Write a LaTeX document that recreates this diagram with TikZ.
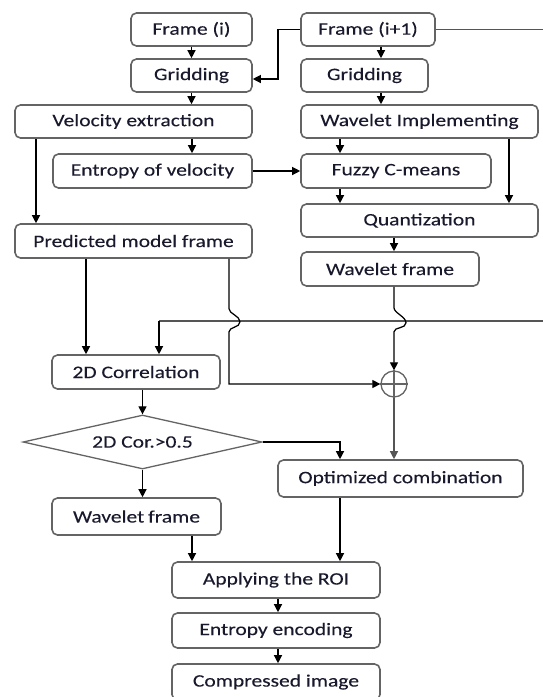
\documentclass[tikz,border=0pt]{standalone}
\usepackage{fontspec}
\setmainfont{Carlito}[FakeStretch=1.23,FakeBold=0.12]
\usetikzlibrary{arrows.meta,shapes.geometric}
\definecolor{boxgray}{RGB}{100,100,100}
\definecolor{linegray}{RGB}{85,85,85}
\definecolor{txt}{RGB}{25,25,45}
\begin{document}
\begin{tikzpicture}[x=1pt,y=-1pt,
  box/.style={draw=boxgray, line width=1.6pt, rounded corners=5.5pt, inner sep=0pt,
    font=\fontsize{17.5}{20}\selectfont, text=txt, fill=white},
  dia/.style={draw=boxgray, line width=1.3pt, shape=diamond, inner sep=0pt, aspect=4.4,
    font=\fontsize{17.5}{20}\selectfont, text=txt},
  conn/.style={draw=black, line width=1.25pt},
  arr/.style={conn, -{Triangle[length=8pt,width=8pt]}},
  gline/.style={draw=linegray, line width=1.4pt},
]
\useasboundingbox (0,0) rectangle (543,697);
% columns
\coordinate (xa) at (381,0);
\coordinate (xb) at (340,0);
\coordinate (xc) at (509,0);
\coordinate (xd) at (394,0);
\coordinate (xe) at (36,0);
\coordinate (xf) at (86,0);
\coordinate (xg) at (229,0);
\coordinate (xh) at (159,0);
\coordinate (xj) at (192,0);
\coordinate (xk) at (278,0);
\coordinate (yl) at (0,321);
\coordinate (redge) at (543,321);
\coordinate (tedge) at (543,29.5);

% boxes
\node[box, minimum width=121, minimum height=33] (f1) at (191.5,29.5) {Frame (i)};
\node[box, minimum width=134, minimum height=33] (f2) at (368,29.5) {Frame (i+1)};
\node[box, minimum width=121, minimum height=33] (g1) at (191.5,75.5) {Gridding};
\node[box, minimum width=127, minimum height=33] (g2) at (364.5,75.5) {Gridding};
\node[box, minimum width=237, minimum height=33] (ve) at (133.5,121.5) {Velocity extraction};
\node[box, minimum width=237, minimum height=33] (wi) at (419.5,121.5) {Wavelet Implementing};
\node[box, minimum width=199, minimum height=34] (ev) at (152.5,171) {Entropy of velocity};
\node[box, minimum width=190, minimum height=34] (fc) at (396,171) {Fuzzy C-means};
\node[box, minimum width=237, minimum height=33] (qz) at (419.5,220.5) {Quantization};
\node[box, minimum width=237, minimum height=34] (pm) at (133.5,241) {Predicted model frame};
\node[box, minimum width=178, minimum height=34] (wr) at (390,269) {Wavelet frame};
\node[box, minimum width=168, minimum height=34] (cr) at (136,372) {2D Correlation};
\node[dia, minimum width=239, minimum height=54] (dm) at (142.5,442) {2D Cor.>0.5};
\node[box, minimum width=245, minimum height=37] (oc) at (400.5,478.5) {Optimized combination};
\node[box, minimum width=169, minimum height=37] (wl) at (136.5,516.5) {Wavelet\kern-1pt\ frame};
\node[box, minimum width=208, minimum height=36] (ar) at (276,580) {Applying the ROI};
\node[box, minimum width=208, minimum height=35] (ee) at (276,630.5) {Entropy encoding};
\node[box, minimum width=208, minimum height=36] (ci) at (276,682) {Compressed image};
\node[draw=boxgray, line width=1.3pt, circle, minimum size=26, inner sep=0pt] (cp) at (394,384) {};
\draw[draw=boxgray, line width=1.1pt] (cp.north) -- (cp.south) (cp.west) -- (cp.east);

% connectors
\draw[arr] (f1.south) -- (g1.north);
\draw[arr] (f2.west) -| ([yshift=-3.5pt]g1.east -| xk) -- ([yshift=-3.5pt]g1.east);
\draw[gline] (f2.east) -- (tedge);
\draw[arr] (g1.south) -- (ve.north -| g1.south);
\draw[arr] (f2.south -| xa) -- (g2.north -| xa);
\draw[arr] (g2.south -| xa) -- (wi.north -| xa);
\draw[arr] (ve.south -| xj) -- (ev.north -| xj);
\draw[arr] (ve.south -| xe) -- (pm.north -| xe);
\draw[arr] (ev.east) -- (fc.west);
\draw[arr] (wi.south -| xb) -- (fc.north -| xb);
\draw[arr] (wi.south -| xc) -- (qz.north -| xc);
\draw[arr] (fc.south -| xb) -- (qz.north -| xb);
\draw[arr] (qz.south -| xd) -- (wr.north -| xd);
\draw[arr] (pm.south -| xf) -- (cr.north -| xf);
% long gray line from the right edge to 2D Correlation
\draw[gline] (redge) -- (xh |- yl);
\draw[arr] (xh |- yl) -- (cr.north -| xh);
% predicted model frame to the adder, with a jump
\draw[arr] (pm.south -| xg) -- ++(0,50) .. controls ++(0,5) and ++(0,-6) .. ++(11,13)
  .. controls ++(0,6) and ++(0,-5) .. ++(-11,10) -- (xg |- cp.west) -- (cp.west);
% wavelet frame to the adder, with a jump
\draw[arr] (wr.south -| xd) -- ++(0,21) .. controls ++(0,5) and ++(0,-6) .. ++(12,15)
  .. controls ++(0,6) and ++(0,-5) .. ++(-12,9) -- (cp.north);
\draw[arr] (cr.south -| dm.north) -- (dm.north);
\draw[arr] (dm.east) -| (oc.north -| xb);
\draw[arr, draw=linegray] (cp.south) -- (oc.north -| cp.south);
\draw[arr] (dm.south) -- (wl.north -| dm.south);
\draw[arr] (wl.south -| xj) -- (ar.north -| xj);
\draw[arr] (oc.south -| xb) -- (ar.north -| xb);
\draw[arr] (ar.south -| xk) -- (ee.north -| xk);
\draw[arr] (ee.south -| xk) -- (ci.north -| xk);
\end{tikzpicture}
\end{document}
